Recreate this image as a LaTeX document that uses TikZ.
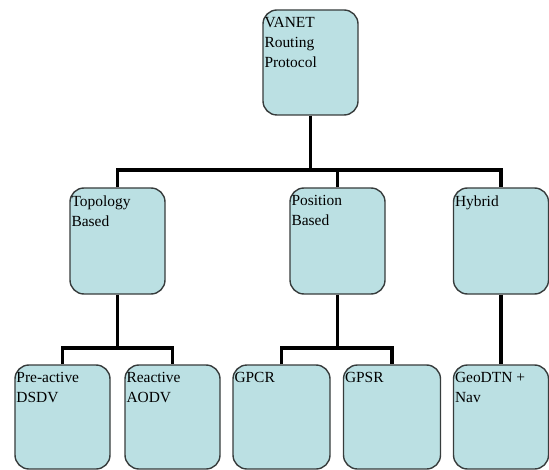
\documentclass[tikz,border=0pt]{standalone}
\usepackage{fontspec}
\setmainfont{Liberation Serif}
\usetikzlibrary{positioning}

\definecolor{boxfill}{RGB}{187,224,227}
\definecolor{boxline}{RGB}{55,60,60}

\begin{document}
\begin{tikzpicture}[x=1bp,y=-1bp,
          every node/.style={font=\fontsize{15.5}{20}\selectfont},
          box/.style={draw=boxline,line width=1.4bp,fill=boxfill,
            rounded corners=14bp,minimum width=95bp,inner sep=0pt},
          toplevel/.style={box,minimum height=106bp},
          leaf/.style={box,minimum height=104bp},
          boxtext/.style={anchor=north west,align=left,inner sep=0pt,
            xshift=2bp,yshift=-8bp},
          link/.style={line width=3.5bp}]
        \useasboundingbox (0,0) rectangle (549,470);
        \node[box,minimum height=105bp] (root) at (310.5,62.5) {};
        \node[toplevel] (topo) at (117.5,241) {};
        \node[toplevel] (pos) at (337.5,241) {};
        \node[toplevel] (hyb) at (501,241) {};
        \node[leaf] (pre) at (62.5,417) {};
        \node[leaf] (rea) at (172.5,417) {};
        \node[leaf,minimum width=97bp] (gpcr) at (281.5,417) {};
        \node[leaf,minimum width=97bp] (gpsr) at (392,417) {};
        \node[leaf] (geo) at (501,417) {};
        \node[boxtext] (roottxt) at (root.north west) {VANET\\Routing\\Protocol};
        \node[boxtext] (topotxt) at (topo.north west) {Topology\\Based};
        \node[boxtext] (postxt) at (pos.north west) {Position\\Based};
        \node[boxtext] (hybtxt) at (hyb.north west) {Hybrid};
        \node[boxtext] (pretxt) at (pre.north west) {Pre-active\\DSDV};
        \node[boxtext] (reatxt) at (rea.north west) {Reactive\\AODV};
        \node[boxtext] (gpcrtxt) at (gpcr.north west) {GPCR};
        \node[boxtext] (gpsrtxt) at (gpsr.north west) {GPSR};
        \node[boxtext] (geotxt) at (geo.north west) {GeoDTN +\\Nav};
        \coordinate (bus) at (0,170);
        \coordinate (subbus) at (0,348);
        \draw[link] (root.south) -- (root.south |- bus);
        \draw[link] (topo.north) |- (bus -| hyb.north) -- (hyb.north);
        \draw[link] (pos.north) -- (pos.north |- bus);
        \draw[link] (topo.south) -- (topo.south |- subbus);
        \draw[link] (pre.north) |- (subbus -| rea.north) -- (rea.north);
        \draw[link] (pos.south) -- (pos.south |- subbus);
        \draw[link] (gpcr.north) |- (subbus -| gpsr.north) -- (gpsr.north);
        \draw[link] (hyb.south) -- (geo.north);
      \end{tikzpicture}
\end{document}
